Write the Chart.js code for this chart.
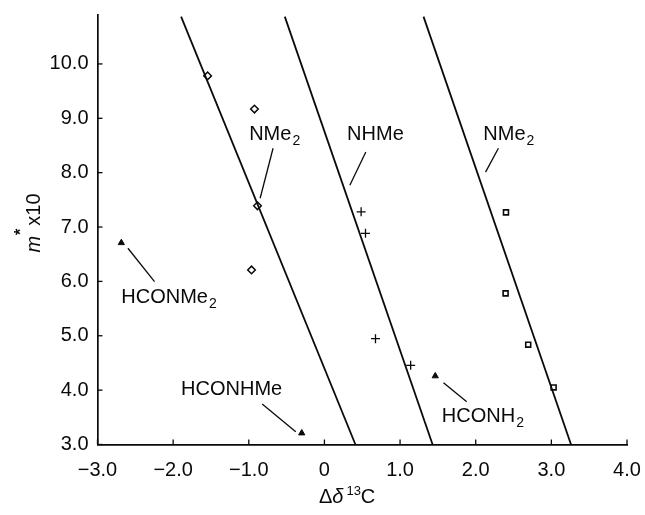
<!DOCTYPE html>
<html>
<head>
<meta charset="utf-8">
<script src="https://cdn.jsdelivr.net/npm/chart.js@4/dist/chart.umd.min.js"></script>
<style>
html,body{margin:0;padding:0;background:#fff;}
#wrap{width:645px;height:515px;}
</style>
</head>
<body>
<div id="wrap"><canvas id="c" width="645" height="515"></canvas></div>
<script>
// ---- data ----
const xTickValues = [-3, -2, -1, 0, 1, 2, 3, 4];
const xTickLabels = ['\u22123.0', '\u22122.0', '\u22121.0', '0', '1.0', '2.0', '3.0', '4.0'];
const yTickValues = [3, 4, 5, 6, 7, 8, 9, 10];
const yTickLabels = ['3.0', '4.0', '5.0', '6.0', '7.0', '8.0', '9.0', '10.0'];

// NMe2 (diamonds)
const nme2X = [-1.544, -0.925, -0.885, -0.964];
const nme2Y = [9.78, 9.17, 7.39, 6.21];
// NHMe (crosses)
const nhmeX = [0.485, 0.543, 0.675, 1.14];
const nhmeY = [7.28, 6.885, 4.946, 4.457];
// NMe2 right group (squares)
const nme2bX = [2.40, 2.395, 2.694, 3.03];
const nme2bY = [7.27, 5.78, 4.836, 4.05];
// formamides (filled triangles)
const amideX = [-2.685, -0.30, 1.465];
const amideY = [6.71, 3.21, 4.26];

// regression lines: [x at top, x at bottom], [y top, y bottom]
const line1X = [-1.895, 0.41];
const line2X = [-0.524, 1.43];
const line3X = [1.31, 3.26];
const lineY = [10.87, 3.0];

// leader lines (x0, y0, x1, y1)
const leaderX0 = [-0.679, 0.547, 2.30, -2.598, -0.823, 1.574];
const leaderY0 = [8.449, 8.38, 8.45, 6.61, 3.745, 4.137];
const leaderX1 = [-0.850, 0.336, 2.13, -2.246, -0.379, 1.881];
const leaderY1 = [7.529, 7.77, 8.01, 5.995, 3.235, 3.787];

// labels: main text, subscript, left x, baseline y
const labelMain = ['NMe', 'NHMe', 'NMe', 'HCONMe', 'HCONHMe', 'HCONH'];
const labelSub = ['2', '', '2', '2', '', '2'];
const labelX = [-0.995, 0.30, 2.10, -2.685, -1.895, 1.552];
const labelY = [8.60, 8.60, 8.60, 5.597, 3.91, 3.42];

const xTitleMain = '\u0394\u03b4';
const xTitleSup = '13';
const xTitleEnd = 'C';
const yTitleM = 'm';
const yTitleStar = '*';
const yTitleRest = 'x10';

// ---- build ----
const pts = (xs, ys) => xs.map((x, i) => ({x: x, y: ys[i]}));
const FONT = '"Liberation Sans", Arial, Helvetica, sans-serif';
const INK = '#0a0a0a';

const datasets = [];
[line1X, line2X, line3X].forEach(lx => {
  datasets.push({data: pts(lx, lineY), showLine: true, borderColor: INK, borderWidth: 1.8, pointRadius: 0, fill: false});
});
leaderX0.forEach((x0, i) => {
  datasets.push({data: [{x: x0, y: leaderY0[i]}, {x: leaderX1[i], y: leaderY1[i]}], showLine: true, borderColor: INK, borderWidth: 1.3, pointRadius: 0, fill: false});
});
datasets.push({data: pts(nme2X, nme2Y), pointStyle: 'rectRot', pointRadius: 3.8, borderColor: INK, backgroundColor: '#fff', pointBorderWidth: 1.5, borderWidth: 1.5});
datasets.push({data: pts(nhmeX, nhmeY), pointStyle: 'cross', pointRadius: 4.5, borderColor: INK, pointBorderWidth: 1.3, borderWidth: 1.3});
datasets.push({data: pts(nme2bX, nme2bY), pointStyle: 'rect', pointRadius: 3.5, borderColor: INK, backgroundColor: '#fff', pointBorderWidth: 1.6, borderWidth: 1.6});
datasets.push({data: pts(amideX, amideY), pointStyle: 'triangle', pointRadius: 3.6, borderColor: INK, backgroundColor: INK, pointBorderWidth: 1, borderWidth: 1});

const decor = {
  id: 'decor',
  afterDraw(chart) {
    const ctx = chart.ctx;
    const xs = chart.scales.x, ys = chart.scales.y;
    const a = chart.chartArea;
    ctx.save();
    ctx.strokeStyle = INK;
    ctx.lineWidth = 1.3;
    // inward ticks
    xTickValues.forEach(v => {
      const px = xs.getPixelForValue(v);
      ctx.beginPath(); ctx.moveTo(px, a.bottom); ctx.lineTo(px, a.bottom - 5); ctx.stroke();
    });
    yTickValues.forEach(v => {
      const py = ys.getPixelForValue(v);
      ctx.beginPath(); ctx.moveTo(a.left, py); ctx.lineTo(a.left + 5, py); ctx.stroke();
    });
    // annotation labels
    ctx.fillStyle = INK;
    ctx.textBaseline = 'alphabetic';
    ctx.textAlign = 'left';
    labelMain.forEach((t, i) => {
      const px = xs.getPixelForValue(labelX[i]);
      const py = ys.getPixelForValue(labelY[i]);
      ctx.font = '20px ' + FONT;
      ctx.fillText(t, px, py);
      const w = ctx.measureText(t).width;
      if (labelSub[i]) {
        ctx.font = '14px ' + FONT;
        ctx.fillText(labelSub[i], px + w + 1, py + 5);
      }
    });
    // x title
    const cx = xs.getPixelForValue(0.3);
    const ty = 503;
    ctx.font = '20px ' + FONT;
    const w1 = ctx.measureText('\u0394').width;
    ctx.font = 'italic 20px ' + FONT;
    const w2 = ctx.measureText('\u03b4').width;
    ctx.font = '13px ' + FONT;
    const w3 = ctx.measureText(xTitleSup).width;
    ctx.font = '20px ' + FONT;
    const w4 = ctx.measureText(xTitleEnd).width;
    let sx = cx - (w1 + w2 + 3 + w3 + w4) / 2;
    ctx.font = '20px ' + FONT; ctx.fillText('\u0394', sx, ty); sx += w1;
    ctx.font = 'italic 20px ' + FONT; ctx.fillText('\u03b4', sx, ty); sx += w2 + 3;
    ctx.font = '13px ' + FONT; ctx.fillText(xTitleSup, sx, ty - 8); sx += w3;
    ctx.font = '20px ' + FONT; ctx.fillText(xTitleEnd, sx, ty);
    // y title (rotated)
    ctx.translate(40, 223);
    ctx.rotate(-Math.PI / 2);
    ctx.font = 'italic 20px ' + FONT;
    const m1 = ctx.measureText(yTitleM).width;
    ctx.font = 'bold 16px ' + FONT;
    const m2 = ctx.measureText(yTitleStar).width;
    ctx.font = '20px ' + FONT;
    const m3 = ctx.measureText(yTitleRest).width;
    let tx = -(m1 + m2 + 4 + m3) / 2;
    ctx.font = 'italic 20px ' + FONT; ctx.fillText(yTitleM, tx, 0); tx += m1 + 1;
    ctx.font = 'bold 16px ' + FONT; ctx.fillText(yTitleStar, tx, -14); tx += m2 + 3;
    ctx.font = '20px ' + FONT; ctx.fillText(yTitleRest, tx, 0);
    ctx.restore();
  }
};

new Chart(document.getElementById('c'), {
  type: 'scatter',
  data: {datasets: datasets},
  options: {
    responsive: false,
    animation: false,
    devicePixelRatio: 1,
    layout: {padding: {left: 0, right: 18, top: 15, bottom: 0}},
    plugins: {legend: {display: false}, tooltip: {enabled: false}},
    scales: {
      x: {
        type: 'linear', min: -3, max: 4, position: 'bottom',
        afterBuildTicks: s => { s.ticks = xTickValues.map(v => ({value: v})); },
        afterFit: s => { s.height = 70.5; s.paddingLeft = 0; s.paddingRight = 0; },
        grid: {drawOnChartArea: false, drawTicks: false, display: false},
        border: {display: true, color: INK, width: 1.7},
        ticks: {
          padding: 14, color: INK, maxRotation: 0, autoSkip: false,
          font: {family: FONT, size: 20},
          callback: v => { const i = xTickValues.indexOf(v); return i >= 0 ? xTickLabels[i] : ''; }
        }
      },
      y: {
        type: 'linear', min: 3, max: 10.9,
        afterBuildTicks: s => { s.ticks = yTickValues.map(v => ({value: v})); },
        afterFit: s => { s.width = 97.5; s.paddingTop = 0; s.paddingBottom = 0; },
        grid: {drawOnChartArea: false, drawTicks: false, display: false},
        border: {display: true, color: INK, width: 1.7},
        ticks: {
          padding: 9, color: INK, autoSkip: false,
          font: {family: FONT, size: 20},
          callback: v => { const i = yTickValues.indexOf(v); return i >= 0 ? yTickLabels[i] : ''; }
        }
      }
    }
  },
  plugins: [decor]
});
</script>
</body>
</html>
